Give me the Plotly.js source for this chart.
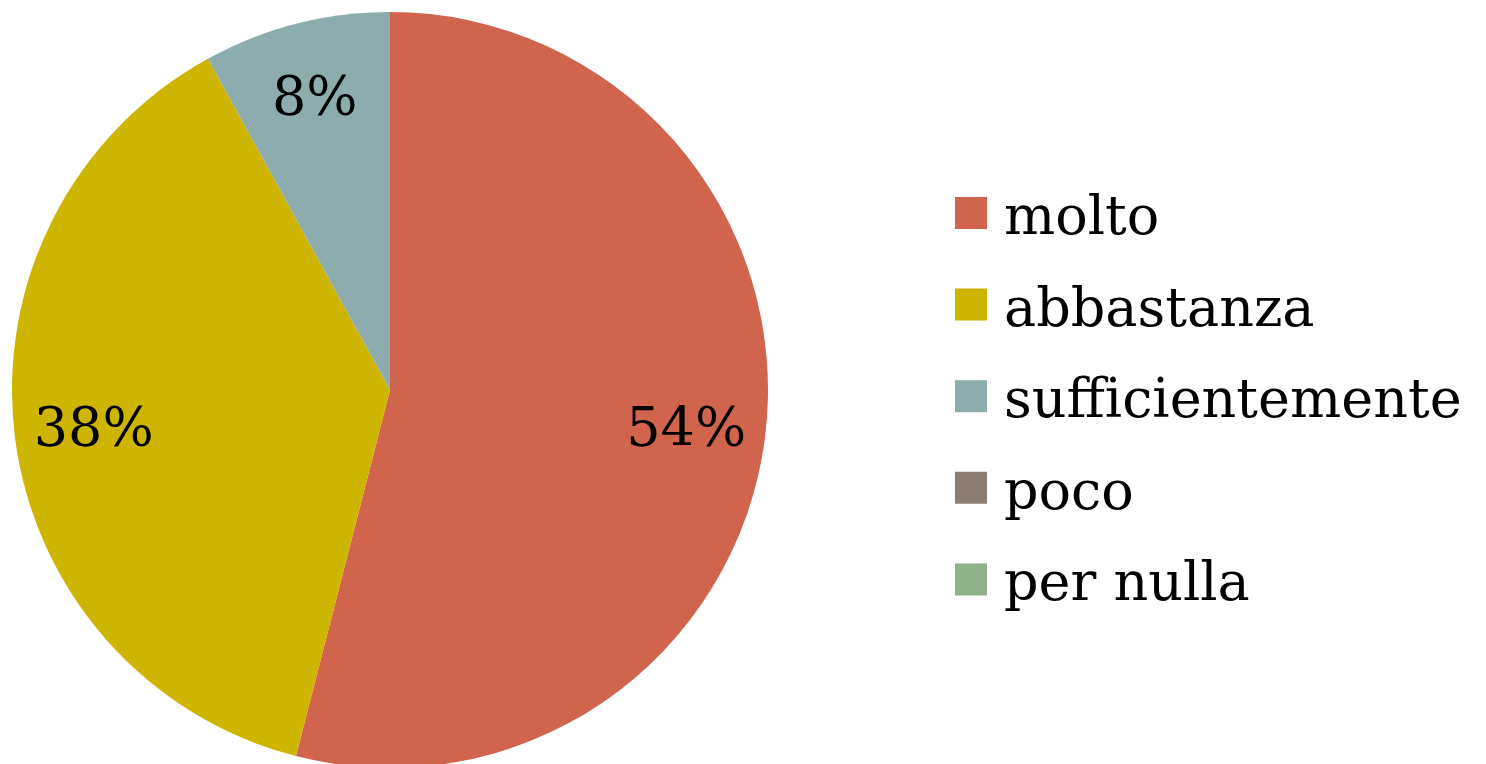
<!DOCTYPE html>
<html>
<head>
<meta charset="utf-8">
<script src="https://cdn.plot.ly/plotly-3.0.1.min.js"></script>
<style>
html, body { margin: 0; padding: 0; background: #ffffff; }
#wrap { width: 1486px; height: 764px; overflow: hidden; position: relative; }
#chart { width: 1486px; height: 780px; }
</style>
</head>
<body>
<div id="wrap"><div id="chart"></div></div>
<script>
const categories = ["molto", "abbastanza", "sufficientemente", "poco", "per nulla"];
const values = [54, 38, 8, 0, 0];
const colors = ["#D1644C", "#CEB500", "#8DACAD", "#8C7C71", "#8FB08B"];

const pieDomain = { x: [12/1486, 768/1486], y: [12/780, 768/780] };

const slices = {
  type: "pie",
  labels: categories,
  values: values,
  sort: false,
  direction: "clockwise",
  rotation: 0,
  marker: { colors: colors, line: { width: 0 } },
  textinfo: "none",
  domain: pieDomain,
  hoverinfo: "label+percent",
  showlegend: true
};

// transparent ring carrying the percentage labels near the outer edge
const labelsRing = {
  type: "pie",
  labels: categories,
  values: values,
  sort: false,
  direction: "clockwise",
  rotation: 0,
  hole: 0.58,
  marker: { colors: categories.map(function () { return "rgba(0,0,0,0)"; }), line: { width: 0 } },
  textinfo: "percent",
  texttemplate: "%{percent:.0%}",
  textposition: "inside",
  insidetextorientation: "horizontal",
  insidetextfont: { family: "DejaVu Serif", size: 54, color: "#000000" },
  domain: pieDomain,
  hoverinfo: "skip",
  showlegend: false
};

const layout = {
  width: 1486,
  height: 780,
  margin: { l: 0, r: 0, t: 0, b: 0 },
  paper_bgcolor: "#ffffff",
  plot_bgcolor: "#ffffff",
  showlegend: true,
  legend: {
    x: 951/1486, xanchor: "left",
    y: 0.5, yanchor: "middle",
    font: { family: "DejaVu Serif", size: 54, color: "#000000" },
    bgcolor: "rgba(0,0,0,0)",
    borderwidth: 0,
    traceorder: "normal"
  }
};

Plotly.newPlot("chart", [slices, labelsRing], layout, { displayModeBar: false, staticPlot: true }).then(function (gd) {
  gd.querySelectorAll(".legend [clip-path]").forEach(function (el) { el.removeAttribute("clip-path"); });
  const items = gd.querySelectorAll(".legend .traces");
  const spacing = 91.6;
  items.forEach(function (g, i) {
    g.setAttribute("transform", "translate(0," + (11 + i * spacing) + ")");
    const p = g.querySelector(".legendpoints path");
    if (p) { p.setAttribute("transform", "translate(20,0) scale(2.67)"); }
    const t = g.querySelector("text.legendtext");
    if (t) { t.setAttribute("x", "53"); }
  });
});
</script>
</body>
</html>
